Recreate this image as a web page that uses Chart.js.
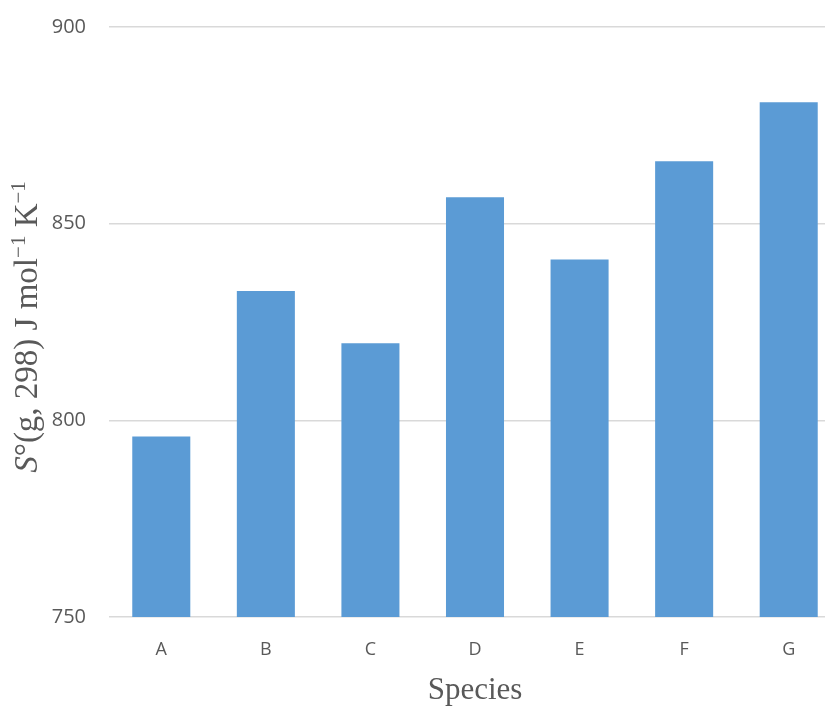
<!DOCTYPE html>
<html>
<head>
<meta charset="utf-8">
<script src="https://cdn.jsdelivr.net/npm/chart.js@4/dist/chart.umd.min.js"></script>
<style>
  html, body { margin: 0; padding: 0; background: #ffffff; overflow: hidden; }
  #wrap { width: 825px; height: 706px; overflow: hidden; position: relative; }
  canvas { display: block; }
</style>
</head>
<body>
<div id="wrap"><canvas id="chart" width="841" height="706"></canvas></div>
<script>
// Standard molar entropies of the gas-phase species
const species = ['A', 'B', 'C', 'D', 'E', 'F', 'G'];
const entropy = [795.9, 832.9, 819.6, 856.7, 840.9, 865.9, 880.9];

// Value axis range and tick spacing
const yMin = 750;
const yMax = 900;
const yStep = 50;

// Axis titles (y title is drawn in pieces so the S can be italic and the exponents raised)
const xTitle = 'Species';
const yTitleParts = [
  { text: 'S', italic: true },
  { text: '°(g, 298) J mol' },
  { text: '−1', sup: true },
  { text: ' K' },
  { text: '−1', sup: true }
];

const TEXT_GREY = '#595959';
const SERIF = '"Liberation Serif", "Times New Roman", serif';

const yTitlePlugin = {
  id: 'yTitle',
  afterDraw(chart) {
    const ctx = chart.ctx;
    const area = chart.chartArea;
    const size = 33;
    const supSize = 21;
    const fontFor = p => (p.italic ? 'italic ' : '') + (p.sup ? supSize : size) + 'px ' + SERIF;
    ctx.save();
    let total = 0;
    yTitleParts.forEach(p => { ctx.font = fontFor(p); total += ctx.measureText(p.text).width; });
    const cy = (area.top + area.bottom) / 2 + 5;
    ctx.translate(37, cy);
    ctx.rotate(-Math.PI / 2);
    ctx.fillStyle = TEXT_GREY;
    ctx.textBaseline = 'alphabetic';
    ctx.textAlign = 'left';
    let x = -total / 2;
    yTitleParts.forEach(p => {
      ctx.font = fontFor(p);
      ctx.fillText(p.text, x, p.sup ? -12 : 0);
      x += ctx.measureText(p.text).width;
    });
    ctx.restore();
  }
};

new Chart(document.getElementById('chart'), {
  type: 'bar',
  data: {
    labels: species,
    datasets: [{
      data: entropy,
      backgroundColor: '#5b9bd5',
      borderWidth: 0,
      barPercentage: 0.555,
      categoryPercentage: 1.0
    }]
  },
  options: {
    responsive: false,
    animation: false,
    devicePixelRatio: 1,
    layout: { padding: { top: 27, left: 0, right: 0, bottom: 0 } },
    plugins: {
      legend: { display: false },
      tooltip: { enabled: false }
    },
    scales: {
      x: {
        grid: { display: false },
        border: { display: false },
        ticks: {
          color: TEXT_GREY,
          font: { family: '"Open Sans", sans-serif', size: 18 },
          padding: 14
        },
        title: {
          display: true,
          text: xTitle,
          color: TEXT_GREY,
          font: { family: SERIF, size: 31, lineHeight: 1.0 },
          padding: { top: 0, bottom: 0 }
        },
        afterFit(scale) { scale.height = 89; }
      },
      y: {
        min: yMin,
        max: yMax,
        grid: { color: '#d9d9d9', lineWidth: 1.5, drawTicks: false },
        border: { display: false },
        ticks: {
          stepSize: yStep,
          color: TEXT_GREY,
          font: { family: '"Open Sans", sans-serif', size: 20 },
          padding: 23
        },
        afterFit(scale) {
          scale.width = 109;
          // the label gap is horizontal only; keep it from padding the plot vertically
          scale.paddingTop = 0;
          scale.paddingBottom = 0;
        }
      }
    }
  },
  plugins: [yTitlePlugin]
});
</script>
</body>
</html>
